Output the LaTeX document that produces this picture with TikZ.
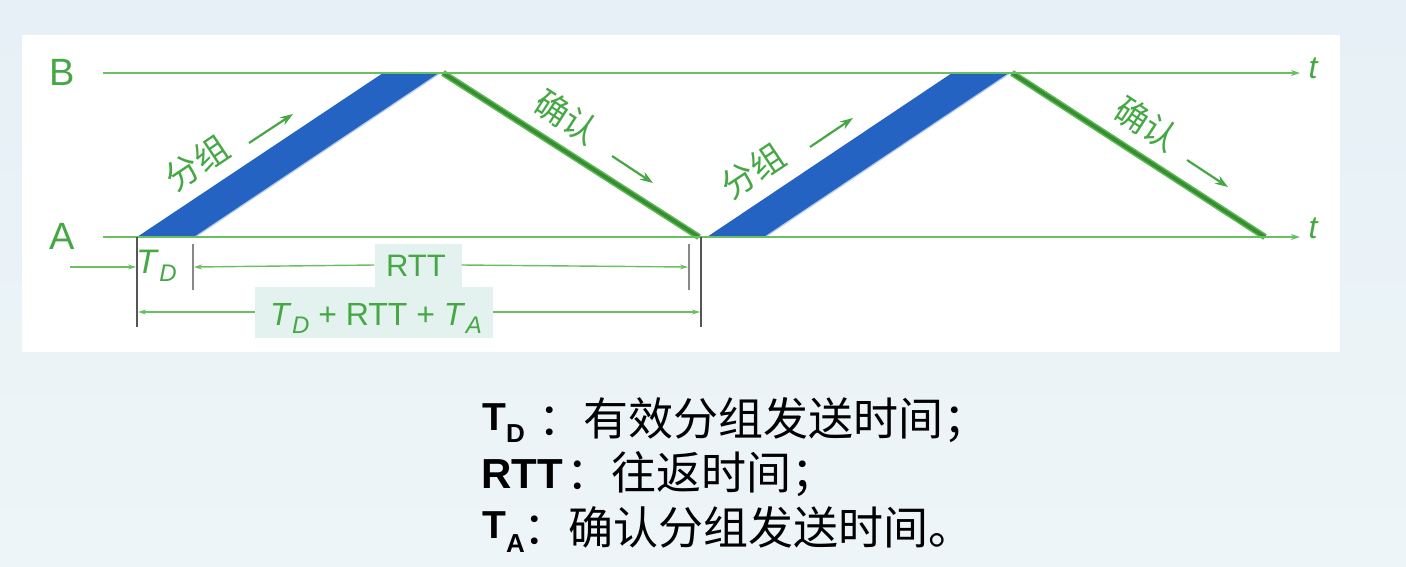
\documentclass[tikz,border=0pt]{standalone}
\usepackage{fontspec}
\setmainfont{Liberation Sans}
\newfontfamily\cjk{Noto Sans CJK SC}
\usetikzlibrary{arrows.meta}
\definecolor{gtext}{HTML}{45A845}
\definecolor{gline}{HTML}{6ABF62}
\definecolor{pblue}{HTML}{2463C2}
\definecolor{ackcore}{HTML}{348F2E}
\definecolor{ackedge}{HTML}{62B85A}
\definecolor{bgtop}{HTML}{E6F0F6}
\definecolor{bgbot}{HTML}{EEF5F8}
\definecolor{lblbg}{HTML}{E4F2EF}
\definecolor{tickc}{HTML}{555555}
\newcommand\itsub[3]{\textit{#1}\kern0.5pt\raisebox{-8pt}{\fontsize{#3}{#3}\selectfont\itshape #2}}
\begin{document}
\begin{tikzpicture}[x=1pt,y=-1pt,
  axis/.style={draw=gline, line width=1.6pt, -{Stealth[length=9pt,width=6pt]}},
  dimline/.style={draw=gline, line width=1.4pt, -{Stealth[length=8pt,width=5pt]}},
  tickline/.style={draw=tickc, line width=1.3pt},
  shorttick/.style={draw=tickc!70, line width=1.3pt},
  dirarrow/.style={draw=gtext, line width=2.2pt, -{Stealth[length=13pt,width=9pt]}},
  lbl/.style={text=gtext, inner sep=0pt},
  cjklbl/.style={text=gtext, inner sep=0pt, font=\cjk\fontsize{34}{34}\selectfont},
  legend/.style={text=black, inner sep=0pt, anchor=base west},
  latleg/.style={legend, font=\fontsize{39}{39}\selectfont\bfseries},
  cjkleg/.style={legend, font=\cjk\fontsize{45}{45}\selectfont},
  boxbg/.style={fill=lblbg, draw=none, inner sep=0pt}]
\useasboundingbox (0,0) rectangle (1406,566);
\shade[top color=bgtop, bottom color=bgbot] (0,0) rectangle (1406,566);
\fill[white] (22,35) rectangle (1340,352);

% axis coordinates
\coordinate (Bs) at (103,73);
\coordinate (Be) at (1300,73);
\coordinate (As) at (103,237);
\coordinate (Ae) at (1300,237);

% packets
\coordinate (p1a) at (137,237); \coordinate (p1b) at (195,237);
\coordinate (p1c) at (440,73);  \coordinate (p1d) at (383,73);
\coordinate (p2a) at (707,237); \coordinate (p2b) at (765,237);
\coordinate (p2c) at (1010,73); \coordinate (p2d) at (952,73);
\fill[pblue] (p1a) -- (p1b) -- (p1c) -- (p1d) -- cycle;
\fill[pblue] (p2a) -- (p2b) -- (p2c) -- (p2d) -- cycle;
\draw[pblue!35!white, line width=1.2pt] (p1b) -- (p1c);
\draw[pblue!35!white, line width=1.2pt] (p2b) -- (p2c);

% acks
\coordinate (a1s) at (443,73); \coordinate (a1e) at (699,237);
\coordinate (a2s) at (1012,73); \coordinate (a2e) at (1265,237);
\draw[ackedge, line width=6.5pt] (a1s) -- (a1e);
\draw[ackcore, line width=3.5pt] (a1s) -- (a1e);
\draw[ackedge, line width=6.5pt] (a2s) -- (a2e);
\draw[ackcore, line width=3.5pt] (a2s) -- (a2e);

% time axes
\draw[axis] (Bs) -- (Be);
\draw[axis] (As) -- (Ae);
\node[lbl, font=\fontsize{38}{38}\selectfont] (Blbl) at (62,72) {B};
\node[lbl, font=\fontsize{38}{38}\selectfont] (Albl) at (62,236) {A};
\node[lbl, font=\fontsize{32}{32}\selectfont\itshape, anchor=base] (tB) at (1313,78) {t};
\node[lbl, font=\fontsize{32}{32}\selectfont\itshape, anchor=base] (tA) at (1313,238) {t};

% direction labels
\node[cjklbl, rotate=33.7] (pk1) at (197,163) {分组};
\node[cjklbl, rotate=-32.9] (ak1) at (567,117) {确认};
\node[cjklbl, rotate=33.7] (pk2) at (753,171) {分组};
\node[cjklbl, rotate=-32.9] (ak2) at (1147,124) {确认};
\coordinate (d1s) at (249,143); \coordinate (d1e) at (293,114);
\coordinate (d2s) at (612,156); \coordinate (d2e) at (653,183);
\coordinate (d3s) at (810,147); \coordinate (d3e) at (853,118);
\coordinate (d4s) at (1187,160); \coordinate (d4e) at (1228,187);
\draw[dirarrow] (d1s) -- (d1e);
\draw[dirarrow] (d2s) -- (d2e);
\draw[dirarrow] (d3s) -- (d3e);
\draw[dirarrow] (d4s) -- (d4e);

% ticks
\coordinate (k1t) at (137,237); \coordinate (k1b) at (137,327);
\coordinate (k2t) at (193,244); \coordinate (k2b) at (193,290);
\coordinate (k3t) at (689,244); \coordinate (k3b) at (689,290);
\coordinate (k4t) at (701,237); \coordinate (k4b) at (701,327);
\draw[tickline] (k1t) -- (k1b);
\draw[shorttick] (k2t) -- (k2b);
\draw[shorttick] (k3t) -- (k3b);
\draw[tickline] (k4t) -- (k4b);

% row 1
\coordinate (r1a) at (70,267); \coordinate (r1b) at (136,267);
\coordinate (r1c) at (194,267); \coordinate (r1d) at (688,267);
\draw[dimline] (r1a) -- (r1b);
\node[lbl, anchor=base west, font=\fontsize{34}{34}\selectfont] (tdl) at (136,273) {\itsub{T}{D}{24}};
\node[boxbg, minimum width=87pt, minimum height=43pt] (rttbox) at (418,265) {};
\node[lbl, anchor=base, font=\fontsize{31}{31}\selectfont] (rtt) at (416,276) {RTT};
\draw[dimline] (rttbox.west) -- (r1c);
\draw[dimline] (rttbox.east) -- (r1d);

% row 2
\coordinate (r2a) at (138,312); \coordinate (r2b) at (700,312);
\node[boxbg, minimum width=238pt, minimum height=51pt] (sumbox) at (374,312) {};
\node[lbl, anchor=base, font=\fontsize{32}{32}\selectfont] (sum) at (376,325) {\itsub{T}{D}{24} + RTT + \itsub{T}{A}{24}};
\draw[dimline] (sumbox.west) -- (r2a);
\draw[dimline] (sumbox.east) -- (r2b);

% legend
\node[latleg] (lg1) at (482,430) {T\raisebox{-12pt}{\fontsize{26}{26}\selectfont D}};
\node[cjkleg] (lg1t) at (538,435) {：有效分组发送时间；};
\node[latleg, font=\fontsize{42}{42}\selectfont\bfseries] (lg2) at (481,488) {RTT};
\node[cjkleg] (lg2t) at (566,489) {：往返时间；};
\node[latleg] (lg3) at (482,538) {T\raisebox{-14pt}{\fontsize{26}{26}\selectfont A}};
\node[cjkleg] (lg3t) at (523,544) {：确认分组发送时间。};
\end{tikzpicture}
\end{document}
